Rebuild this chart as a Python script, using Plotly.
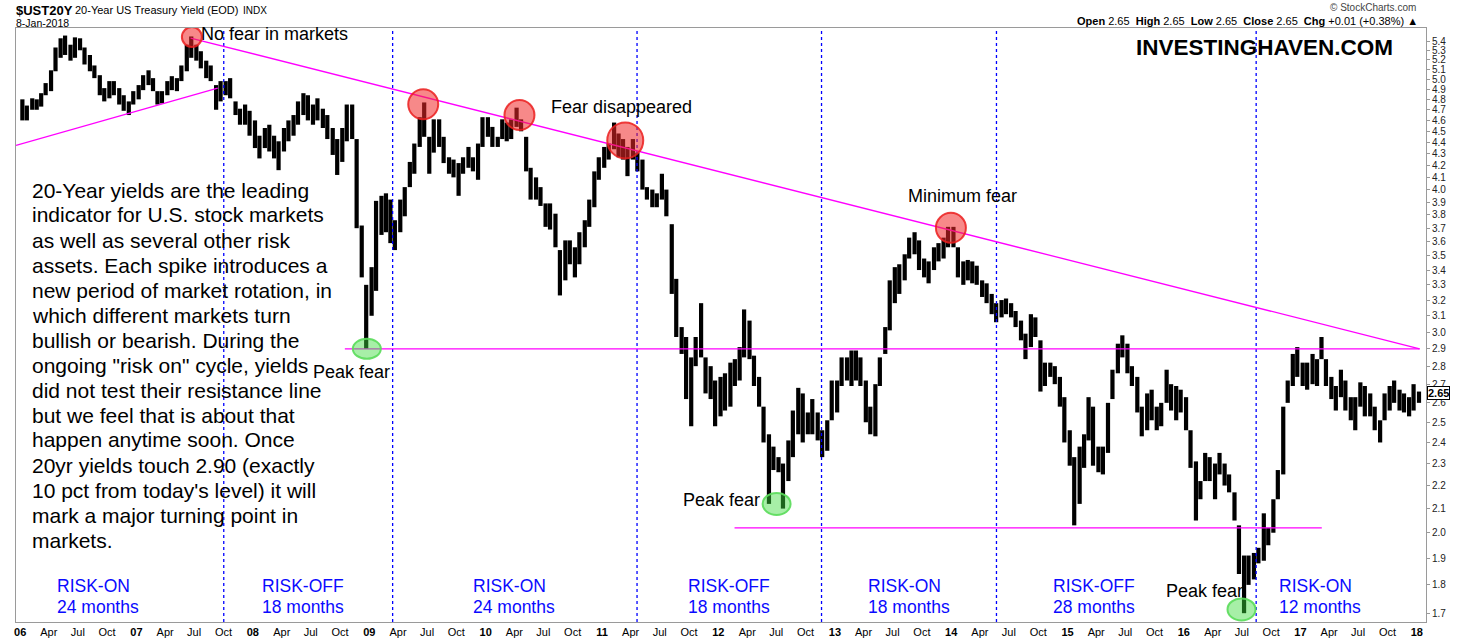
import math
import pandas as pd
import plotly.graph_objects as go

# ---------------- data ----------------
# semi-monthly periods (1st / 15th) from Jan-2006 to Jan-2018
period_start = pd.date_range("2006-01-01", "2018-01-01", freq="SMS")

high = [
    # 2006
    4.80, 4.74, 4.81, 4.80, 4.86, 4.96, 5.09, 5.33, 5.43, 5.46, 5.36, 5.44,
    5.43, 5.33, 5.25, 5.14, 5.04, 4.91, 4.98, 4.98, 4.91, 4.84, 4.78, 4.88,
    # 2007
    4.94, 5.04, 5.09, 5.01, 4.88, 4.88, 4.98, 5.03, 5.01, 5.14, 5.36, 5.45,
    5.36, 5.29, 5.19, 5.14, 4.94, 4.98, 4.98, 5.01, 4.78, 4.71, 4.75, 4.69,
    # 2008
    4.60, 4.46, 4.53, 4.56, 4.46, 4.41, 4.53, 4.60, 4.65, 4.78, 4.86, 4.84,
    4.75, 4.81, 4.71, 4.65, 4.53, 4.43, 4.53, 4.75, 4.75, 4.43, 3.72, 3.30,
    # 2009
    3.42, 3.91, 3.95, 3.97, 3.92, 3.76, 3.92, 4.02, 4.23, 4.39, 4.63, 4.77,
    4.45, 4.61, 4.61, 4.45, 4.27, 4.25, 4.22, 4.27, 4.36, 4.27, 4.39, 4.63,
    # 2010
    4.63, 4.54, 4.45, 4.61, 4.58, 4.61, 4.72, 4.61, 4.45, 4.18, 4.10, 4.02,
    3.89, 3.89, 3.81, 3.54, 3.61, 3.61, 3.56, 3.67, 3.76, 3.92, 4.15, 4.27,
    # 2011
    4.36, 4.39, 4.58, 4.48, 4.43, 4.36, 4.43, 4.31, 4.25, 4.02, 4.00, 3.97,
    4.13, 4.00, 3.73, 3.34, 3.03, 2.97, 2.85, 2.97, 3.18, 2.85, 2.80, 2.72,
    # 2012
    2.74, 2.76, 2.82, 2.84, 2.91, 3.14, 3.07, 2.86, 2.74, 2.58, 2.44, 2.38,
    2.33, 2.30, 2.41, 2.56, 2.68, 2.65, 2.55, 2.62, 2.55, 2.46, 2.51, 2.72,
    # 2013
    2.72, 2.85, 2.85, 2.89, 2.89, 2.85, 2.72, 2.58, 2.70, 2.85, 3.03, 3.33,
    3.42, 3.44, 3.51, 3.63, 3.67, 3.61, 3.48, 3.46, 3.56, 3.59, 3.63, 3.71,
    # 2014
    3.71, 3.56, 3.46, 3.47, 3.46, 3.43, 3.33, 3.31, 3.24, 3.18, 3.20, 3.21,
    3.18, 3.13, 3.07, 2.99, 3.11, 3.09, 2.95, 2.82, 2.82, 2.80, 2.74, 2.63,
    # 2015
    2.46, 2.33, 2.38, 2.44, 2.63, 2.58, 2.38, 2.38, 2.60, 2.78, 2.93, 2.98,
    2.93, 2.80, 2.74, 2.58, 2.65, 2.67, 2.58, 2.60, 2.78, 2.70, 2.69, 2.67,
    # 2016
    2.63, 2.46, 2.31, 2.22, 2.35, 2.33, 2.30, 2.35, 2.30, 2.25, 2.17, 2.03,
    1.91, 1.91, 1.92, 1.94, 2.08, 2.02, 2.14, 2.27, 2.58, 2.72, 2.87, 2.91,
    # 2017
    2.82, 2.82, 2.87, 2.84, 2.97, 2.84, 2.74, 2.69, 2.78, 2.72, 2.63, 2.63,
    2.71, 2.69, 2.65, 2.58, 2.51, 2.65, 2.69, 2.72, 2.67, 2.65, 2.63, 2.70,
    # 2018
    2.66,
]

low = [
    # 2006
    4.60, 4.60, 4.70, 4.70, 4.73, 4.84, 4.88, 5.08, 5.22, 5.25, 5.19, 5.22,
    5.30, 5.15, 5.08, 5.01, 4.84, 4.78, 4.81, 4.84, 4.75, 4.69, 4.65, 4.75,
    # 2007
    4.80, 4.89, 4.94, 4.88, 4.75, 4.76, 4.84, 4.89, 4.88, 4.98, 5.08, 5.22,
    5.19, 5.11, 5.01, 4.98, 4.70, 4.78, 4.84, 4.81, 4.65, 4.56, 4.56, 4.46,
    # 2008
    4.35, 4.26, 4.35, 4.32, 4.26, 4.16, 4.32, 4.41, 4.46, 4.56, 4.65, 4.60,
    4.56, 4.60, 4.53, 4.43, 4.29, 4.12, 4.23, 4.41, 4.43, 3.70, 3.35, 2.90,
    # 2009
    3.10, 3.26, 3.65, 3.67, 3.59, 3.54, 3.67, 3.79, 4.02, 4.13, 4.36, 4.45,
    4.13, 4.31, 4.36, 4.22, 4.13, 4.10, 3.95, 4.13, 4.18, 4.15, 4.08, 4.36,
    # 2010
    4.45, 4.36, 4.36, 4.43, 4.41, 4.43, 4.54, 4.50, 4.15, 3.92, 3.92, 3.87,
    3.71, 3.69, 3.56, 3.23, 3.33, 3.44, 3.35, 3.44, 3.56, 3.71, 3.86, 4.08,
    # 2011
    4.18, 4.25, 4.34, 4.27, 4.25, 4.11, 4.25, 4.15, 4.00, 3.92, 3.86, 3.86,
    3.92, 3.79, 3.24, 2.97, 2.87, 2.62, 2.48, 2.80, 2.85, 2.65, 2.62, 2.48,
    # 2012
    2.53, 2.56, 2.58, 2.69, 2.72, 2.85, 2.84, 2.69, 2.58, 2.40, 2.12, 2.27,
    2.26, 2.10, 2.22, 2.33, 2.44, 2.40, 2.44, 2.44, 2.41, 2.33, 2.36, 2.51,
    # 2013
    2.55, 2.69, 2.72, 2.69, 2.72, 2.69, 2.50, 2.44, 2.43, 2.69, 2.87, 3.01,
    3.18, 3.24, 3.33, 3.48, 3.51, 3.40, 3.35, 3.31, 3.40, 3.46, 3.48, 3.56,
    # 2014
    3.56, 3.35, 3.30, 3.33, 3.31, 3.30, 3.22, 3.18, 3.11, 3.06, 3.09, 3.11,
    3.09, 3.03, 2.95, 2.84, 2.91, 2.97, 2.66, 2.69, 2.74, 2.70, 2.58, 2.40,
    # 2015
    2.29, 2.03, 2.12, 2.28, 2.41, 2.29, 2.26, 2.25, 2.35, 2.62, 2.76, 2.85,
    2.76, 2.69, 2.55, 2.43, 2.46, 2.51, 2.46, 2.48, 2.60, 2.56, 2.51, 2.55,
    # 2016
    2.46, 2.28, 2.05, 2.14, 2.22, 2.22, 2.14, 2.25, 2.20, 2.17, 2.05, 1.84,
    1.70, 1.80, 1.82, 1.88, 1.89, 1.95, 2.00, 2.14, 2.25, 2.60, 2.69, 2.74,
    # 2017
    2.69, 2.67, 2.70, 2.69, 2.84, 2.69, 2.62, 2.56, 2.63, 2.56, 2.51, 2.46,
    2.58, 2.53, 2.53, 2.46, 2.40, 2.51, 2.56, 2.60, 2.56, 2.55, 2.53, 2.56,
    # 2018
    2.60,
]

last_close = 2.65

# regime boundaries (blue dotted lines) and labels
regime_dates = ["2007-10-02", "2009-03-15", "2011-04-21", "2012-11-20", "2014-05-23", "2016-08-15"]
regime_names = ["RISK-ON", "RISK-OFF", "RISK-ON", "RISK-OFF", "RISK-ON", "RISK-OFF", "RISK-ON"]
regime_lengths = ["24 months", "18 months", "24 months", "18 months", "18 months", "28 months", "12 months"]

# highlighted extremes
fear_dates = ["2007-06-24", "2009-06-19", "2010-04-17", "2011-03-15", "2013-12-31"]
fear_values = [5.444, 4.752, 4.650, 4.418, 3.703]
peak_fear_dates = ["2008-12-24", "2012-07-02", "2016-06-30"]
peak_fear_values = [2.90, 2.12, 1.713]

# trend / level lines (date, yield)
resistance_line = (["2007-06-20", "2018-01-10"], [5.433, 2.90])
support_line = (["2005-12-19", "2007-09-13"], [4.373, 4.911])
level_290 = (["2008-10-16", "2018-01-10"], [2.90, 2.90])
level_202 = (["2012-02-21", "2017-03-09"], [2.02, 2.02])

y_ticks = [round(1.7 + 0.1 * i, 1) for i in range(38)]

paragraph = [
    "20-Year yields are the leading",
    "indicator for U.S. stock markets",
    "as well as several other risk",
    "assets. Each spike introduces a",
    "new period of market rotation, in",
    "which different markets turn",
    "bullish or bearish. During the",
    "ongoing \"risk on\" cycle, yields",
    "did not test their resistance line",
    "but we feel that is about that",
    "happen anytime soon. Once",
    "20yr yields touch 2.90 (exactly",
    "10 pct from today's level) it will",
    "mark a major turning point in",
    "markets.",
]

# ---------------- figure ----------------
FONT = "Liberation Sans, Arial, sans-serif"
W, H = 1460, 640
L, R, T, B = 16, 1426, 28, 622
Y_MIN, Y_MAX = 1.670, 5.544
PX_PER_LN = (B - T) / (math.log(Y_MAX) - math.log(Y_MIN))


def px(x):
    return (x - L) / (R - L)


def py(y):
    return (B - y) / (B - T)


centers = period_start + pd.Timedelta(days=7)
sizes = [h - l for h, l in zip(high, low)]

fig = go.Figure()
fig.add_trace(go.Bar(
    x=centers, y=sizes, base=low,
    marker=dict(color="black", line=dict(width=0)),
    width=15 * 0.88 * 86400000,
    hoverinfo="skip",
))

shapes = []
for d in regime_dates:
    shapes.append(dict(type="line", xref="x", yref="paper", x0=d, x1=d, y0=0, y1=1,
                       line=dict(color="#0000ff", width=1.3, dash="dot"), layer="above"))

for (xs, ys) in [resistance_line, support_line, level_290, level_202]:
    shapes.append(dict(type="line", xref="x", yref="y",
                       x0=xs[0], x1=xs[1], y0=ys[0], y1=ys[1],
                       line=dict(color="#ff00ff", width=1.3), layer="above"))


def ring(d, v, rx, ry, fill, edge):
    k = math.exp(ry / PX_PER_LN)
    shapes.append(dict(type="circle", xref="x", yref="y", xsizemode="pixel",
                       xanchor=d, x0=-rx, x1=rx, y0=v / k, y1=v * k,
                       fillcolor=fill, line=dict(color=edge, width=2), layer="above"))


red_r = [10, 15, 15, 18, 15]
for d, v, r in zip(fear_dates, fear_values, red_r):
    ring(d, v, r, r, "rgba(240,40,40,0.55)", "rgba(235,30,30,0.85)")

green_r = [(14, 10), (14, 11), (14, 11)]
for d, v, (rx, ry) in zip(peak_fear_dates, peak_fear_values, green_r):
    ring(d, v, rx, ry, "rgba(60,220,60,0.45)", "rgba(90,220,90,0.9)")

ann = []


def text(x, y, s, size, color="black", anchor="left", bold=False):
    ann.append(dict(xref="paper", yref="paper", x=px(x), y=py(y), text=("<b>%s</b>" % s) if bold else s,
                    showarrow=False, xanchor=anchor, yanchor="middle",
                    font=dict(family=FONT, size=size, color=color)))


# header
text(14, 10, "$UST20Y", 13, bold=True)
text(73, 10, "20-Year US Treasury Yield (EOD)", 11)
text(241, 10, "INDX", 10)
text(14, 23, "8-Jan-2018", 10.5)
text(1418, 8, "\u00a9 StockCharts.com", 10, color="#444", anchor="right")
text(1420, 21,
     "<b>Open</b> 2.65  <b>High</b> 2.65  <b>Low</b> 2.65  <b>Close</b> 2.65  <b>Chg</b> +0.01 (+0.38%) \u25b2",
     11, anchor="right")

# watermark
text(1134, 48, "INVESTINGHAVEN.COM", 22.5, bold=True)

# chart notes
text(199, 34, "No fear in markets", 18)
text(549, 107, "Fear disappeared", 18)
text(906, 196, "Minimum fear", 18)
text(311, 372, "Peak fear", 18)
text(681, 500, "Peak fear", 18)
text(1164, 591, "Peak fear", 18)

for i, line in enumerate(paragraph):
    text(30, 190 + 25 * i, line, 21)

risk_left = [55, 260, 471, 686, 866, 1051, 1277]
for xl, name, months in zip(risk_left, regime_names, regime_lengths):
    text(xl, 586, name, 17.5, color="#0a0aff")
    text(xl, 607, months, 17.5, color="#0a0aff")

# last price marker
ann.append(dict(xref="paper", yref="y", x=1.0, y=math.log10(last_close), xshift=1,
                text="<b>%.2f</b>" % last_close, showarrow=False, xanchor="left", yanchor="middle",
                font=dict(family=FONT, size=11, color="black"),
                bordercolor="black", borderwidth=1, borderpad=0, bgcolor="white"))

qtr = pd.date_range("2006-01-01", "2018-01-01", freq="QS")
qtr_text = ["<b>%02d</b>" % (d.year % 100) if d.month == 1 else d.strftime("%b") for d in qtr]

fig.update_layout(
    width=W, height=H,
    margin=dict(l=L, r=W - R, t=T, b=H - B, autoexpand=False),
    paper_bgcolor="white", plot_bgcolor="white",
    showlegend=False,
    shapes=shapes, annotations=ann,
    font=dict(family=FONT, color="#222"),
    xaxis=dict(type="date", range=["2005-12-19", "2018-01-30"], automargin=False,
               tickvals=list(qtr), ticktext=qtr_text, ticks="", showgrid=False, zeroline=False,
               showline=True, linecolor="#9a9a9a", linewidth=1, mirror=True,
               tickfont=dict(family=FONT, size=11, color="black")),
    yaxis=dict(type="log", side="right", range=[math.log10(Y_MIN), math.log10(Y_MAX)], automargin=False,
               tickvals=y_ticks, ticktext=["%.1f" % v for v in y_ticks],
               ticks="outside", ticklen=3, tickcolor="#9a9a9a", showgrid=False, zeroline=False,
               showline=True, linecolor="#9a9a9a", linewidth=1, mirror=True,
               tickfont=dict(family=FONT, size=10, color="#222")),
)

fig.write_html("out.html", config={"displayModeBar": False},
               post_script="document.body.style.margin='0';")
